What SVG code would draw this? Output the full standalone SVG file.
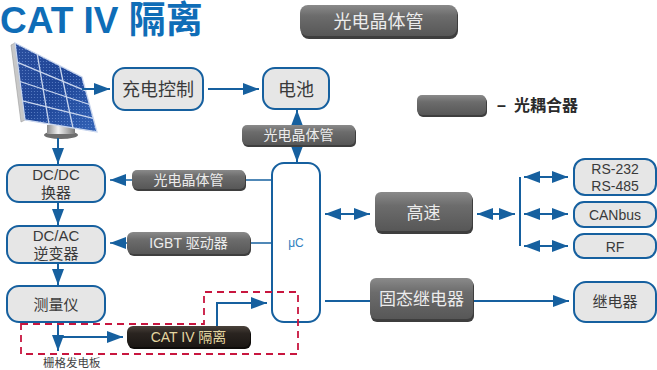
<svg xmlns="http://www.w3.org/2000/svg" width="657" height="370" viewBox="0 0 657 370">
  <defs>
    <style>
      .t { font-family: "Liberation Sans", "Noto Sans CJK SC", sans-serif; }
      .node rect.box { fill: #e6e6e6; stroke: #16609f; stroke-width: 2; }
      .node text { fill: #3a3a3a; text-anchor: middle; }
      .opto text { fill: #ececec; text-anchor: middle; }
      .wire { fill: none; stroke: #16609f; stroke-width: 2; }
      .thin { fill: none; stroke: #16609f; stroke-width: 1.6; }
      .grid { stroke: #c9d6ee; stroke-width: 1.3; fill: none; }
    </style>
    <linearGradient id="gOpto" x1="0" y1="0" x2="0" y2="1">
      <stop offset="0" stop-color="#8a8a8a"/>
      <stop offset="0.35" stop-color="#6c6c6c"/>
      <stop offset="1" stop-color="#575757"/>
    </linearGradient>
    <linearGradient id="gCat" x1="0" y1="0" x2="0" y2="1">
      <stop offset="0" stop-color="#4a423b"/>
      <stop offset="0.35" stop-color="#2a2420"/>
      <stop offset="1" stop-color="#1b1714"/>
    </linearGradient>
    <linearGradient id="gPanel" x1="0" y1="0" x2="1" y2="1">
      <stop offset="0" stop-color="#2b4f9e"/>
      <stop offset="0.5" stop-color="#1f4596"/>
      <stop offset="1" stop-color="#3464b8"/>
    </linearGradient>
    <linearGradient id="gSilver" x1="0" y1="0" x2="1" y2="0">
      <stop offset="0" stop-color="#8d8d8d"/>
      <stop offset="0.4" stop-color="#f0f0f0"/>
      <stop offset="1" stop-color="#7a7a7a"/>
    </linearGradient>
    <pattern id="cells" width="3" height="3" patternUnits="userSpaceOnUse">
      <circle cx="1.5" cy="1.5" r="0.6" fill="#8fb2ee" opacity="0.55"/>
    </pattern>
    <marker id="ah" viewBox="0 0 16 12" refX="16" refY="6" markerWidth="16" markerHeight="12" markerUnits="userSpaceOnUse" orient="auto-start-reverse">
      <path d="M0,0 L16,6 L0,12 z" fill="#16609f"/>
    </marker>
  </defs>

  <rect width="657" height="370" fill="#ffffff"/>

  <!-- title -->
  <text class="t" x="0" y="33" font-size="37" font-weight="bold" fill="#0f6db7">CAT IV <tspan font-size="37">隔离</tspan></text>

  <!-- header label -->
  <g id="header">
    <rect x="301" y="7" width="157" height="32" rx="8" fill="#3e3e3e"/>
    <rect x="300" y="5" width="157" height="31" rx="8" fill="url(#gOpto)"/>
    <text class="t" x="378.5" y="28" font-size="18" fill="#ececec" text-anchor="middle">光电晶体管</text>
  </g>

  <!-- legend -->
  <g id="legend">
    <rect x="418" y="97" width="69" height="20" rx="5" fill="#3e3e3e"/>
    <rect x="417" y="95" width="69" height="20" rx="5" fill="url(#gOpto)"/>
    <text class="t" x="497" y="111" font-size="16" font-weight="bold" fill="#2a2a2a">–</text>
    <text class="t" x="514" y="111" font-size="16" font-weight="bold" fill="#2a2a2a">光耦合器</text>
  </g>

  <!-- solar panel -->
  <g id="solar">
    <ellipse cx="61" cy="135" rx="17" ry="4" fill="#6e6e6e"/>
    <rect x="47" y="125" width="28" height="9" fill="url(#gSilver)"/>
    <polygon points="11,45 15,43 25,120 21,122" fill="#c8c8c8" stroke="#9a9a9a" stroke-width="0.6"/>
    <polygon points="15,43 82,77 97,132 25,120" fill="url(#gPanel)"/>
    <polygon points="15,43 82,77 97,132 25,120" fill="url(#cells)"/>
    <g class="grid">
      <line x1="37.3" y1="54.3" x2="49" y2="124"/>
      <line x1="59.7" y1="65.7" x2="73" y2="128"/>
      <line x1="17.5" y1="62.3" x2="85.8" y2="90.8"/>
      <line x1="20" y1="81.5" x2="89.5" y2="104.5"/>
      <line x1="22.5" y1="100.8" x2="93.3" y2="118.3"/>
      <polygon points="15,43 82,77 97,132 25,120"/>
    </g>
  </g>

  <!-- connectors -->
  <g id="connectors">
    <line class="wire" x1="82" y1="89" x2="110" y2="89" marker-end="url(#ah)"/>
    <line class="wire" x1="208" y1="89" x2="259" y2="89" marker-end="url(#ah)"/>
    <line class="wire" x1="297" y1="110" x2="297" y2="162" marker-start="url(#ah)" marker-end="url(#ah)"/>
    <line class="wire" x1="58" y1="138" x2="58" y2="164" marker-end="url(#ah)"/>
    <line class="wire" x1="58" y1="202" x2="58" y2="225" marker-end="url(#ah)"/>
    <line class="wire" x1="58" y1="263" x2="58" y2="285" marker-end="url(#ah)"/>
    <line class="wire" x1="58" y1="322" x2="58" y2="351" marker-end="url(#ah)"/>
    <line class="wire" x1="57" y1="337" x2="123" y2="337" marker-end="url(#ah)"/>
    <line class="thin" x1="272" y1="180" x2="110" y2="180" marker-end="url(#ah)"/>
    <line class="thin" x1="272" y1="243" x2="110" y2="243" marker-end="url(#ah)"/>
    <polyline class="wire" points="217,326 217,303 267,303" marker-end="url(#ah)"/>
    <line class="wire" x1="325" y1="214" x2="370" y2="214" marker-start="url(#ah)" marker-end="url(#ah)"/>
    <line class="wire" x1="477" y1="214" x2="515" y2="214" marker-start="url(#ah)" marker-end="url(#ah)"/>
    <line class="wire" x1="520" y1="177" x2="520" y2="246"/>
    <line class="wire" x1="524" y1="177" x2="568" y2="177" marker-start="url(#ah)" marker-end="url(#ah)"/>
    <line class="wire" x1="524" y1="214" x2="568" y2="214" marker-start="url(#ah)" marker-end="url(#ah)"/>
    <line class="wire" x1="524" y1="246" x2="568" y2="246" marker-start="url(#ah)" marker-end="url(#ah)"/>
    <line class="wire" x1="325" y1="301" x2="370" y2="301"/>
    <line class="wire" x1="473" y1="301" x2="569" y2="301" marker-end="url(#ah)"/>
  </g>

  <!-- light nodes -->
  <g id="charge" class="node t">
    <rect class="box" x="113" y="68" width="90" height="42" rx="12"/>
    <text x="158" y="96" font-size="18">充电控制</text>
  </g>
  <g id="battery" class="node t">
    <rect class="box" x="263" y="68" width="66" height="41" rx="12"/>
    <text x="296" y="96" font-size="18">电池</text>
  </g>
  <g id="dcdc" class="node t">
    <rect class="box" x="7" y="165" width="98" height="37" rx="12"/>
    <text x="56" y="180" font-size="15">DC/DC</text>
    <text x="56" y="198" font-size="15">换器</text>
  </g>
  <g id="dcac" class="node t">
    <rect class="box" x="7" y="226" width="98" height="37" rx="12"/>
    <text x="56" y="241" font-size="15">DC/AC</text>
    <text x="56" y="259" font-size="15">逆变器</text>
  </g>
  <g id="meter" class="node t">
    <rect class="box" x="7" y="286" width="98" height="36" rx="12"/>
    <text x="56" y="310" font-size="15">测量仪</text>
  </g>
  <g id="mcu" class="node t">
    <rect class="box" x="272" y="163" width="48" height="159" rx="12" style="fill:#ffffff"/>
    <text x="296" y="247" font-size="12" style="fill:#2f7fc0">μC</text>
  </g>
  <g id="rs" class="node t">
    <rect class="box" x="574" y="159" width="82" height="36" rx="11"/>
    <text x="615" y="174" font-size="14">RS-232</text>
    <text x="615" y="191" font-size="14">RS-485</text>
  </g>
  <g id="canbus" class="node t">
    <rect class="box" x="574" y="202" width="82" height="25" rx="10"/>
    <text x="615" y="220" font-size="14">CANbus</text>
  </g>
  <g id="rf" class="node t">
    <rect class="box" x="574" y="234" width="82" height="24" rx="10"/>
    <text x="615" y="252" font-size="14">RF</text>
  </g>
  <g id="relay" class="node t">
    <rect class="box" x="574" y="282" width="82" height="40" rx="12"/>
    <text x="615" y="307" font-size="15">继电器</text>
  </g>

  <!-- optocoupler blocks -->
  <g id="opto-batt" class="opto t">
    <rect x="243" y="127" width="113" height="20" rx="5" fill="#3e3e3e"/>
    <rect x="242" y="125" width="113" height="20" rx="5" fill="url(#gOpto)"/>
    <text x="298.5" y="140" font-size="14">光电晶体管</text>
  </g>
  <g id="opto-dcdc" class="opto t">
    <rect x="133" y="172" width="113" height="19" rx="5" fill="#3e3e3e"/>
    <rect x="132" y="170" width="113" height="19" rx="5" fill="url(#gOpto)"/>
    <text x="188.5" y="185" font-size="14">光电晶体管</text>
  </g>
  <g id="igbt" class="opto t">
    <rect x="128" y="234" width="123" height="22" rx="6" fill="#3e3e3e"/>
    <rect x="127" y="232" width="123" height="22" rx="6" fill="url(#gOpto)"/>
    <text x="188.5" y="248" font-size="14">IGBT 驱动器</text>
  </g>
  <g id="highspeed" class="opto t">
    <rect x="376" y="194" width="97" height="40" rx="6" fill="#3e3e3e"/>
    <rect x="375" y="192" width="97" height="39" rx="6" fill="url(#gOpto)"/>
    <text x="423.5" y="219" font-size="17">高速</text>
  </g>
  <g id="ssr" class="opto t">
    <rect x="371" y="280" width="103" height="42" rx="6" fill="#3e3e3e"/>
    <rect x="370" y="278" width="103" height="41" rx="6" fill="url(#gOpto)"/>
    <text x="421.5" y="305" font-size="17">固态继电器</text>
  </g>
  <g id="cativ" class="t">
    <rect x="128" y="328" width="123" height="21" rx="6" fill="#0e0c0a"/>
    <rect x="127" y="326" width="123" height="21" rx="6" fill="url(#gCat)"/>
    <text x="188.5" y="341.5" font-size="14" fill="#e4d6a0" text-anchor="middle">CAT IV 隔离</text>
  </g>

  <!-- isolation boundary -->
  <polygon points="21,324 204,324 204,292 298,292 298,354 21,354" fill="none" stroke="#c8163f" stroke-width="1.8" stroke-dasharray="7 5"/>

  <text class="t" x="43" y="367" font-size="11.5" fill="#444444">栅格发电板</text>
</svg>
